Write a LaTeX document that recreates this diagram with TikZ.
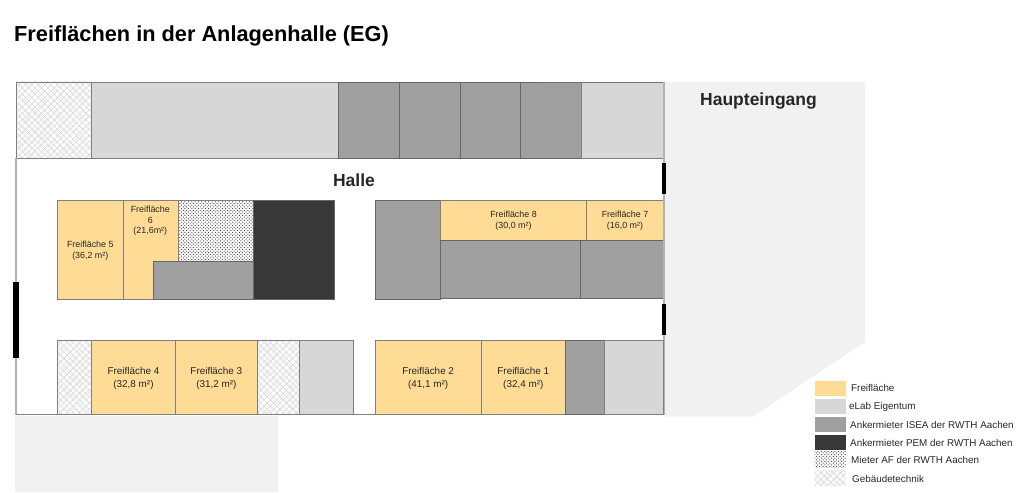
\documentclass[tikz,border=0pt]{standalone}
\usepackage{fontspec}
\setmainfont{Liberation Sans}
\usetikzlibrary{positioning,patterns.meta}
\definecolor{freicol}{HTML}{FFDC95}
\definecolor{elabcol}{HTML}{D7D7D7}
\definecolor{iseacol}{HTML}{A0A0A0}
\definecolor{pemcol}{HTML}{383838}
\definecolor{bgcol}{HTML}{F1F1F1}
\definecolor{wallcol}{HTML}{7F7F7F}
\tikzset{
room/.style 2 args = {draw=wallcol, line width=.7pt, rectangle, anchor=north west, inner sep=0pt, outer sep=0pt, align=center, text depth=-1pt, minimum width=#1pt, minimum height=#2pt, font=\fontsize{8.9}{11}\selectfont},
frei/.style = {fill=freicol, text=black!85},
big/.style = {font=\fontsize{9.9}{13}\selectfont},
elab/.style = {fill=elabcol},
isea/.style = {fill=iseacol, draw=black!60},
pem/.style = {fill=pemcol, draw=black!60},
af/.style = {pattern={Dots[radius=.7pt, distance=2.4pt, angle=45]}, pattern color=black!70},
tech/.style = {preaction={pattern={Hatch[distance=7pt, angle=-45, line width=.5pt]}, pattern color=black!9}, pattern={Hatch[distance=4.5pt, angle=45, line width=.5pt]}, pattern color=black!16},
door/.style = {fill=black, draw=none, rectangle, anchor=north west, inner sep=0pt, outer sep=0pt, minimum width=#1pt},
swatch/.style = {draw=none, rectangle, anchor=north west, inner sep=0pt, outer sep=0pt, minimum width=31pt, minimum height=15pt},
legend/.style = {anchor=west, inner sep=0pt, font=\fontsize{9.85}{11}\selectfont, text=black!85},
head/.style = {anchor=center, inner sep=0pt, font=\bfseries\fontsize{#1}{#1}\selectfont, text=black!85}
}
\begin{document}
\begin{tikzpicture}[x=1pt,y=-1pt]
    \useasboundingbox (0,0) rectangle (1024,492);

    % grey surroundings
    \fill [bgcol] (665,82) -- (865,82) -- (865,342) -- (753,416.5) -- (665,416.5) -- cycle;
    \fill [bgcol] (15,416) rectangle (278,492);

    % top row
    \node [room={75.3}{76}, tech] (topA) at (16,82) {};
    \node [room={247}{76}, elab, right=0pt of topA.north east, anchor=north west] (topB) {};
    \node [room={61}{76}, isea, right=0pt of topB.north east, anchor=north west] (topC) {};
    \node [room={60.7}{76}, isea, right=0pt of topC.north east, anchor=north west] (topD) {};
    \node [room={60.7}{76}, isea, right=0pt of topD.north east, anchor=north west] (topE) {};
    \node [room={61}{76}, isea, right=0pt of topE.north east, anchor=north west] (topF) {};
    \node [room={82}{76}, elab, right=0pt of topF.north east, anchor=north west] (topG) {};
    \draw [black!55, line width=.7pt] (542,82) -- (664,82);

    % left block
    \node [room={66}{99.3}, frei] (f5) at (57.3,200) {Freifläche 5\\(36,2 m²)};
    \draw [draw=wallcol, line width=.7pt, fill=freicol] (123.3,200) -- (178,200) -- (178,261) -- (153,261) -- (153,299.3) -- (123.3,299.3) -- cycle;
    \node [anchor=north, inner sep=0pt, align=center, text=black!85, font=\fontsize{8.9}{10.5}\selectfont] (f6) at (150.3,206.3) {Freifläche\\6\\(21,6m²)};
    \node [room={75}{61}, af] (mieterAF) at (178,200) {};
    \node [room={100}{38.3}, isea] (iseaL) at (153,261) {};
    \node [room={81}{99.3}, pem] (pemL) at (253,200) {};

    % right block
    \node [room={65.7}{99.3}, isea] (iseaM) at (375,200) {};
    \node [room={145.6}{40.3}, frei] (f8) at (440.7,200) {Freifläche 8\\(30,0 m²)};
    \node [room={77.4}{40.3}, frei] (f7) at (586.3,200) {Freifläche 7\\(16,0 m²)};
    \node [room={139.6}{57.7}, isea] (iseaR) at (440.7,240.3) {};
    \node [room={83.4}{57.7}, isea] (iseaS) at (580.3,240.3) {};

    % outer walls
    \draw [black!30, line width=1.2pt] (16,158) -- (16,414.5);
    \draw [black!30, line width=1.2pt] (664,82) -- (664,414.5);
    \draw [wallcol, line width=.8pt] (16,414.5) -- (664,414.5);

    % bottom row
    \node [room={34}{74}, tech] (botA) at (57.3,340.5) {};
    \node [room={84.4}{74}, frei, big] (f4) at (91.3,340.5) {Freifläche 4\\(32,8 m²)};
    \node [room={81.3}{74}, frei, big] (f3) at (175.7,340.5) {Freifläche 3\\(31,2 m²)};
    \node [room={42.5}{74}, tech] (botB) at (257,340.5) {};
    \node [room={54}{74}, elab] (botC) at (299.5,340.5) {};
    \node [room={106.3}{74}, frei, big] (f2) at (375,340.5) {Freifläche 2\\(41,1 m²)};
    \node [room={84}{74}, frei, big] (f1) at (481.3,340.5) {Freifläche 1\\(32,4 m²)};
    \node [room={38.7}{74}, isea] (botD) at (565.3,340.5) {};
    \node [room={59.7}{74}, elab] (botE) at (604,340.5) {};

    % doors
    \node [door=5.5, minimum height=76pt] (doorL) at (13,282) {};
    \node [door=4, minimum height=31pt] (doorA) at (661.8,163) {};
    \node [door=4, minimum height=31pt] (doorB) at (661.6,304) {};

    % labels
    \node [head=21.75, anchor=west, text=black] (title) at (14,35.5) {Freiflächen in der Anlagenhalle (EG)};
    \node [head=17.5] (halle) at (354,180.3) {Halle};
    \node [head=17.5] (eingang) at (758.5,101.5) {Haupteingang};

    % legend
    \node [swatch, frei] (lgFrei) at (814.7,380.7) {};
    \node [swatch, elab] (lgElab) at (814.7,399) {};
    \node [swatch, isea, draw=none] (lgIsea) at (814.7,417.3) {};
    \node [swatch, pem, draw=none] (lgPem) at (814.7,435.3) {};
    \node [swatch, af, minimum height=16pt] (lgAF) at (814.7,451.7) {};
    \node [swatch, tech] (lgTech) at (814.7,470.7) {};
    \node [legend] (txFrei) at (851,388) {Freifläche};
    \node [legend] (txElab) at (849,407) {eLab Eigentum};
    \node [legend] (txIsea) at (850,425) {Ankermieter ISEA der RWTH Aachen};
    \node [legend] (txPem) at (850,443) {Ankermieter PEM der RWTH Aachen};
    \node [legend] (txAF) at (851,460) {Mieter AF der RWTH Aachen};
    \node [legend] (txTech) at (852,479) {Gebäudetechnik};
\end{tikzpicture}
\end{document}
